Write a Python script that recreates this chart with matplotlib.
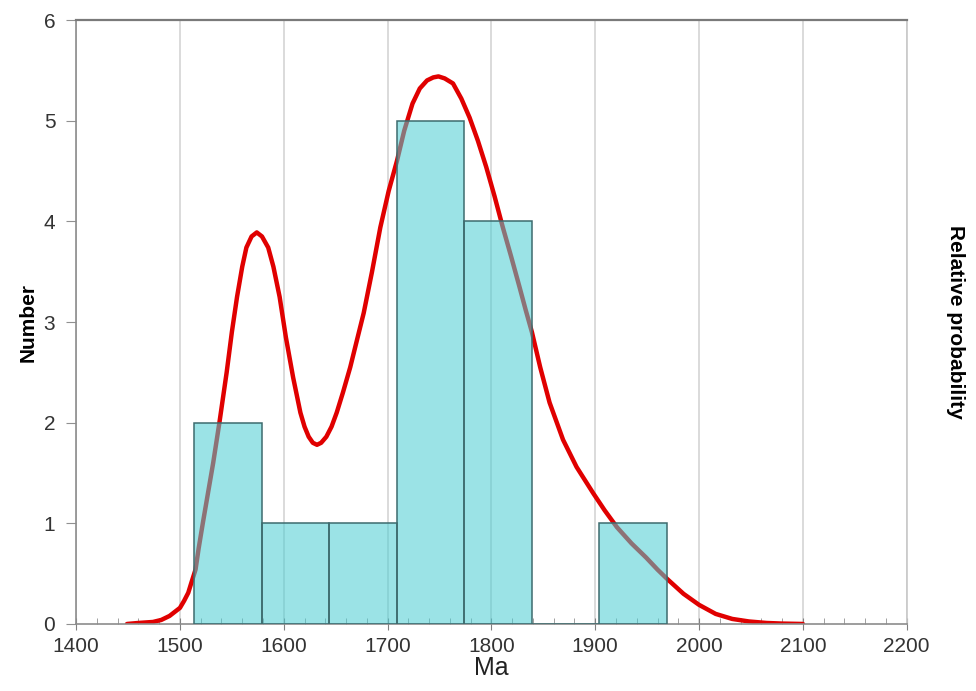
import numpy as np
import matplotlib.pyplot as plt
from matplotlib.ticker import MultipleLocator

plt.rcParams['font.family'] = ['Liberation Sans', 'DejaVu Sans']

# histogram bins (Ma) and counts
bin_edges = [1514, 1579, 1644, 1709, 1774, 1839, 1904, 1969]
counts = [2, 1, 1, 5, 4, 0, 1]

# relative probability curve
curve_x = [1449, 1460, 1474, 1482, 1490, 1495, 1500, 1504, 1508, 1511, 1515,
           1518, 1522, 1527, 1532, 1538, 1545, 1550, 1555, 1560, 1564, 1569,
           1574, 1579, 1585, 1590, 1596, 1602, 1609, 1616, 1620, 1624, 1628,
           1632, 1636, 1641, 1646, 1651, 1657, 1664, 1670, 1677, 1685, 1693,
           1701, 1709, 1716, 1724, 1731, 1738, 1744, 1749, 1755, 1763, 1771,
           1779, 1787, 1795, 1803, 1811, 1819, 1827, 1833, 1839, 1847, 1856,
           1869, 1882, 1898, 1909, 1921, 1935, 1949, 1960, 1969, 1985,
           2000, 2016, 2032, 2048, 2065, 2080, 2100]
curve_y = [0.0, 0.01, 0.02, 0.04, 0.08, 0.12, 0.16, 0.23, 0.31, 0.41, 0.54,
           0.75, 1.0, 1.3, 1.6, 2.0, 2.5, 2.9, 3.25, 3.55, 3.74, 3.85,
           3.89, 3.85, 3.74, 3.55, 3.25, 2.85, 2.45, 2.1, 1.96, 1.86, 1.80,
           1.78, 1.80, 1.86, 1.96, 2.1, 2.3, 2.55, 2.8, 3.09, 3.5, 3.94,
           4.3, 4.6, 4.9, 5.17, 5.32, 5.40, 5.43, 5.44, 5.42, 5.37, 5.22,
           5.03, 4.8, 4.54, 4.25, 3.94, 3.65, 3.35, 3.12, 2.90, 2.55, 2.2,
           1.83, 1.56, 1.30, 1.13, 0.96, 0.80, 0.66, 0.54, 0.45, 0.30,
           0.19, 0.10, 0.05, 0.025, 0.01, 0.004, 0.0]

fig = plt.figure(figsize=(9.76, 6.91), dpi=100)
ax = fig.add_axes([0.078, 0.097, 0.851, 0.874])

ax.plot(curve_x, curve_y, color='#e00000', lw=3.2, zorder=2,
        solid_capstyle='round', solid_joinstyle='round')

widths = np.diff(bin_edges)
ax.bar(bin_edges[:-1], counts, width=widths, align='edge',
       color='#4dcdd3', alpha=0.56, zorder=3)
ax.bar(bin_edges[:-1], counts, width=widths, align='edge',
       facecolor='none', edgecolor='#3d6b6e', lw=1.1, zorder=4)

ax.set_xlim(1400, 2200)
ax.set_ylim(0, 6)
ax.xaxis.set_major_locator(MultipleLocator(100))
ax.xaxis.set_minor_locator(MultipleLocator(20))
ax.yaxis.set_major_locator(MultipleLocator(1))
ax.grid(axis='x', which='major', color='#d4d4d4', lw=1.2, zorder=0)

ax.tick_params(axis='x', which='major', direction='inout', length=9,
               color='#808080', labelsize=15, labelcolor='#333333', pad=5)
ax.tick_params(axis='x', which='minor', direction='in', length=4,
               color='#909090')
ax.tick_params(axis='y', which='major', direction='out', length=7,
               color='#909090', labelsize=15, labelcolor='#333333', pad=8)

for side in ['left', 'bottom']:
    ax.spines[side].set_color('#8c8c8c')
    ax.spines[side].set_linewidth(1.2)
ax.spines['top'].set_color('#7a7a7a')
ax.spines['top'].set_linewidth(1.6)
ax.spines['right'].set_color('#c8c8c8')
ax.spines['right'].set_linewidth(1.2)

ax.set_xlabel('Ma', fontsize=18, color='#222222', labelpad=0)
ax.set_ylabel('Number', fontsize=15, fontweight='bold', labelpad=4)

ax2 = ax.twinx()
ax2.set_ylim(0, 6)
ax2.set_yticks([])
ax2.spines[:].set_visible(False)
ax2.set_ylabel('Relative probability', fontsize=15, fontweight='bold',
               rotation=270, labelpad=42)

fig.savefig('out.png', dpi=100)
